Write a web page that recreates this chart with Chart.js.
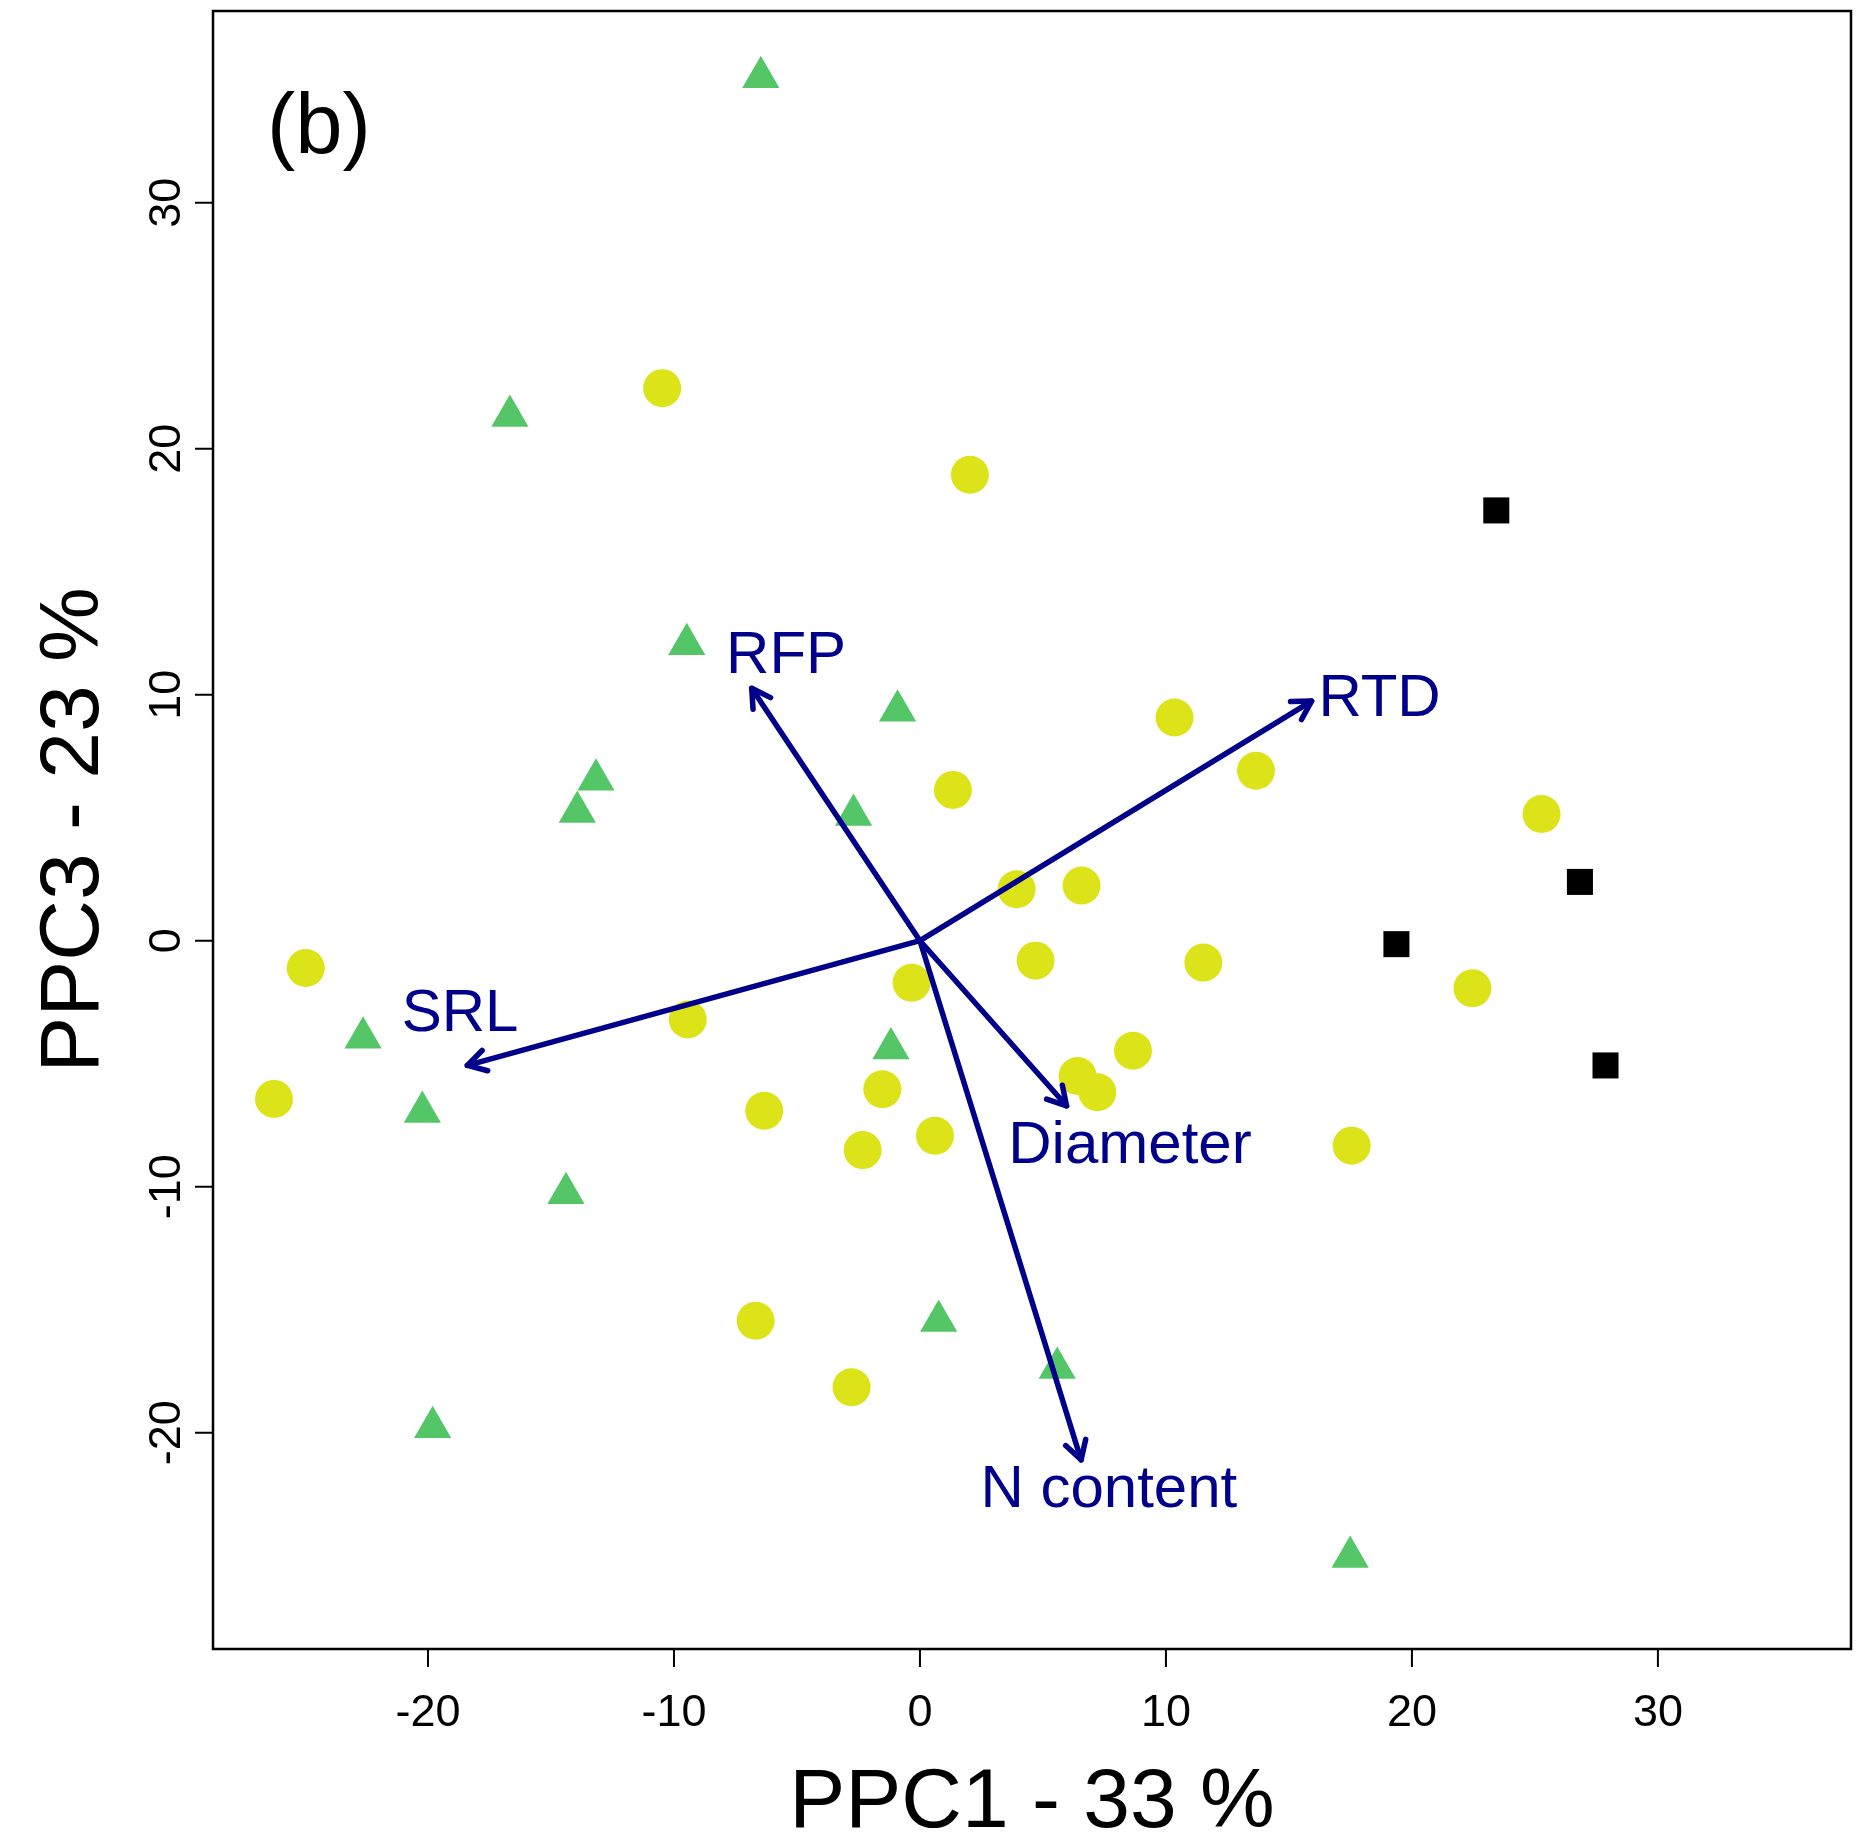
<!DOCTYPE html>
<html lang="en">
<head>
<meta charset="UTF-8">
<title>PPC1 / PPC3 biplot</title>
<script src="https://cdn.jsdelivr.net/npm/chart.js"></script>
<style>
  html, body { margin: 0; padding: 0; background: #fff; }
  #wrap { width: 1864px; height: 1842px; }
</style>
</head>
<body>
<div id="wrap"><canvas id="chart" width="1864" height="1842"></canvas></div>
<script>
  // scores, group 1 (triangles)
  const triX = [-6.47, -16.67, -9.48, -0.91, -13.17, -13.93, -2.70, -22.64, -1.18, -20.23, -14.39, 0.76, 5.58, -19.81, 17.49];
  const triY = [35.10, 21.33, 12.05, 9.35, 6.54, 5.23, 5.11, -3.94, -4.38, -6.96, -10.26, -15.46, -17.37, -19.78, -25.05];

  // scores, group 2 (circles)
  const dotX = [-10.48, 2.03, 10.35, 1.34, 13.66, 25.27, 3.93, 6.57, -24.97, 4.70, 11.52, -0.34, -9.44,
                22.46, 8.66, 6.41, 7.21, -1.53, -26.26, -6.33, 0.61, -2.33, 17.55, -6.68, -2.78];
  const dotY = [22.46, 18.94, 9.07, 6.13, 6.91, 5.15, 2.09, 2.24, -1.11, -0.81, -0.89, -1.71, -3.20,
                -1.93, -4.47, -5.50, -6.16, -6.04, -6.43, -6.91, -7.93, -8.51, -8.33, -15.45, -18.15];

  // scores, group 3 (squares)
  const sqX = [23.43, 26.83, 19.37, 27.87];
  const sqY = [17.49, 2.39, -0.14, -5.07];

  // trait loadings (arrow ends) and where their names go
  const traitNames = ['RTD', 'RFP', 'SRL', 'Diameter', 'N content'];
  const traitX = [15.92, -6.84, -18.40, 5.96, 6.55];
  const traitY = [9.74, 10.26, -5.07, -6.71, -21.10];
  const traitLabelX = [16.20, -7.88, -21.07, 3.59, 2.46];
  const traitLabelY = [9.13, 10.89, -3.66, -9.04, -23.02];

  const xTicks = [-20, -10, 0, 10, 20, 30];
  const yTicks = [-20, -10, 0, 10, 20, 30];
  const xRange = [-28.74, 37.85];
  const yRange = [-28.79, 37.79];

  const FONT = "'Liberation Sans', Arial, Helvetica, sans-serif";
  const NAVY = '#00008B';
  const ARROW_W = 5.5;

  const toPoints = (xs, ys) => xs.map((v, i) => ({ x: v, y: ys[i] }));

  const arrowSets = traitNames.map((name, i) => ({
    label: name,
    data: [{ x: 0, y: 0 }, { x: traitX[i], y: traitY[i] }],
    showLine: true,
    borderColor: NAVY,
    borderWidth: ARROW_W,
    borderCapStyle: 'round',
    pointRadius: 0,
    order: 0
  }));

  // R-style box, ticks, labels, arrowheads
  const biplotDecor = {
    id: 'biplotDecor',
    afterDatasetsDraw(chart) {
      const { ctx, scales: { x, y } } = chart;
      ctx.save();
      ctx.strokeStyle = NAVY;
      ctx.lineWidth = ARROW_W;
      ctx.lineCap = 'round';
      ctx.lineJoin = 'round';
      const ox = x.getPixelForValue(0), oy = y.getPixelForValue(0);
      traitNames.forEach((name, i) => {
        const tx = x.getPixelForValue(traitX[i]);
        const ty = y.getPixelForValue(traitY[i]);
        const ang = Math.atan2(ty - oy, tx - ox);
        const len = 21, spread = Math.PI / 6;
        ctx.beginPath();
        ctx.moveTo(tx - len * Math.cos(ang - spread), ty - len * Math.sin(ang - spread));
        ctx.lineTo(tx, ty);
        ctx.lineTo(tx - len * Math.cos(ang + spread), ty - len * Math.sin(ang + spread));
        ctx.stroke();
      });
      ctx.fillStyle = NAVY;
      ctx.font = '60px ' + FONT;
      ctx.textAlign = 'left';
      ctx.textBaseline = 'alphabetic';
      traitNames.forEach((name, i) => {
        ctx.fillText(name, x.getPixelForValue(traitLabelX[i]), y.getPixelForValue(traitLabelY[i]));
      });
      ctx.restore();
    },
    afterDraw(chart) {
      const { ctx, chartArea: a, scales: { x, y } } = chart;
      ctx.save();
      ctx.strokeStyle = '#000';
      ctx.fillStyle = '#000';

      ctx.lineWidth = 2.5;
      ctx.strokeRect(a.left, a.top, a.right - a.left, a.bottom - a.top);

      const tick = 18;
      ctx.lineWidth = 2;
      ctx.beginPath();
      xTicks.forEach(v => {
        const px = x.getPixelForValue(v);
        ctx.moveTo(px, a.bottom);
        ctx.lineTo(px, a.bottom + tick);
      });
      yTicks.forEach(v => {
        const py = y.getPixelForValue(v);
        ctx.moveTo(a.left, py);
        ctx.lineTo(a.left - tick, py);
      });
      ctx.stroke();

      ctx.font = '45px ' + FONT;
      ctx.textAlign = 'center';
      ctx.textBaseline = 'alphabetic';
      xTicks.forEach(v => ctx.fillText(String(v), x.getPixelForValue(v), a.bottom + 77));
      yTicks.forEach(v => {
        ctx.save();
        ctx.translate(a.left - 33, y.getPixelForValue(v));
        ctx.rotate(-Math.PI / 2);
        ctx.fillText(String(v), 0, 0);
        ctx.restore();
      });

      ctx.font = '84px ' + FONT;
      ctx.fillText('PPC1 - 33 %', (a.left + a.right) / 2, a.bottom + 178);
      ctx.save();
      ctx.translate(98, (a.top + a.bottom) / 2);
      ctx.rotate(-Math.PI / 2);
      ctx.fillText('PPC3 - 23 %', 0, 0);
      ctx.restore();

      ctx.font = '85px ' + FONT;
      ctx.textAlign = 'left';
      ctx.fillText('(b)', a.left + 54, a.top + 142);
      ctx.restore();
    }
  };

  new Chart(document.getElementById('chart'), {
    type: 'scatter',
    data: {
      datasets: [
        ...arrowSets,
        {
          label: 'squares',
          data: toPoints(sqX, sqY),
          pointStyle: 'rect',
          pointRadius: 18.4,
          backgroundColor: '#000000',
          borderWidth: 0,
          order: 1
        },
        {
          label: 'circles',
          data: toPoints(dotX, dotY),
          pointStyle: 'circle',
          pointRadius: 19,
          backgroundColor: '#DCE319',
          borderWidth: 0,
          order: 2
        },
        {
          label: 'triangles',
          data: toPoints(triX, triY),
          pointStyle: 'triangle',
          pointRadius: 21.5,
          backgroundColor: '#55C667',
          borderWidth: 0,
          order: 3
        }
      ]
    },
    options: {
      responsive: false,
      animation: false,
      events: [],
      layout: {
        autoPadding: false,
        padding: { left: 213, right: 13, top: 11, bottom: 193 }
      },
      scales: {
        x: { type: 'linear', min: xRange[0], max: xRange[1], display: false },
        y: { type: 'linear', min: yRange[0], max: yRange[1], display: false }
      },
      plugins: {
        legend: { display: false },
        tooltip: { enabled: false }
      }
    },
    plugins: [biplotDecor]
  });
</script>
</body>
</html>
